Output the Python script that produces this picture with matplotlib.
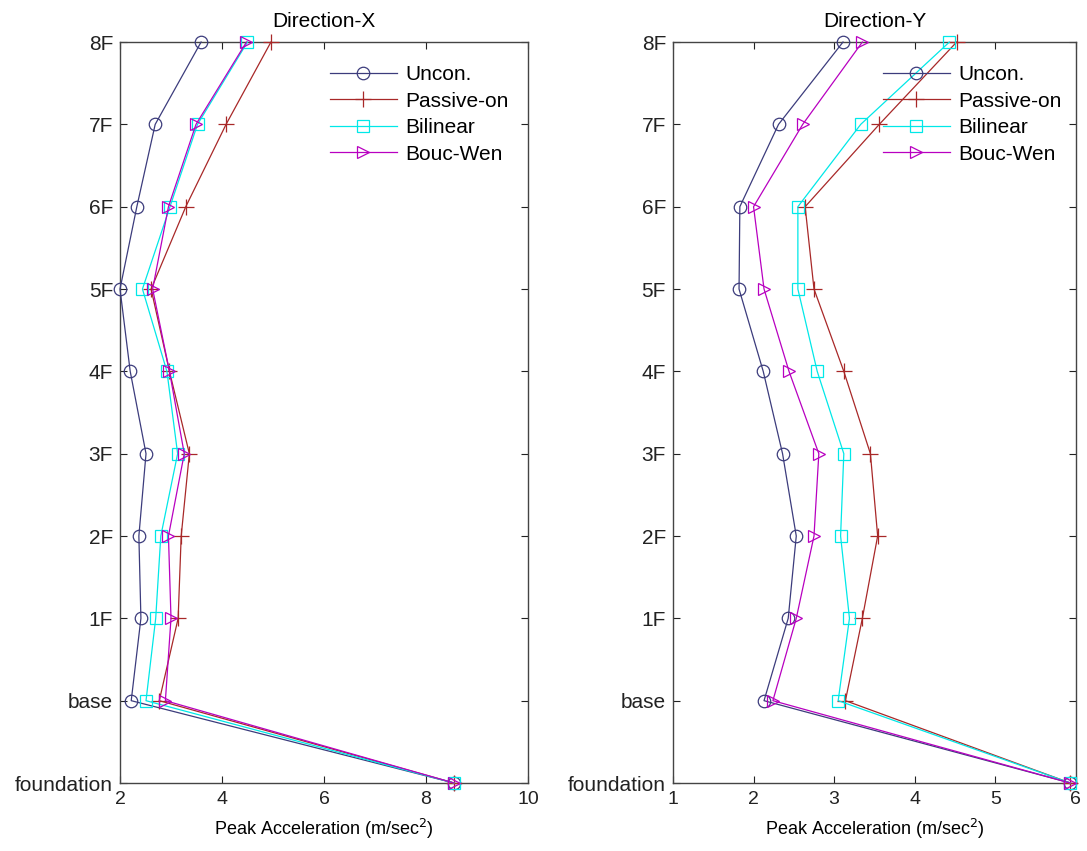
import matplotlib
matplotlib.use("Agg")
import matplotlib.pyplot as plt

plt.rcParams['font.family'] = ['Liberation Sans', 'DejaVu Sans']

floors = ["foundation", "base", "1F", "2F", "3F", "4F", "5F", "6F", "7F", "8F"]

# Peak acceleration (m/sec^2), listed from foundation up to 8F
x_uncon    = [8.55, 2.22, 2.41, 2.37, 2.51, 2.20, 2.00, 2.33, 2.69, 3.59]
x_passive  = [8.55, 2.77, 3.14, 3.20, 3.36, 2.97, 2.61, 3.29, 4.08, 4.96]
x_bilinear = [8.55, 2.51, 2.70, 2.80, 3.13, 2.92, 2.44, 2.98, 3.52, 4.50]
x_boucwen  = [8.55, 2.89, 3.00, 2.95, 3.26, 2.97, 2.64, 2.95, 3.49, 4.48]

y_uncon    = [5.93, 2.13, 2.43, 2.53, 2.36, 2.12, 1.82, 1.83, 2.31, 3.11]
y_passive  = [5.93, 3.14, 3.35, 3.54, 3.45, 3.12, 2.75, 2.64, 3.56, 4.52]
y_bilinear = [5.93, 3.05, 3.19, 3.08, 3.12, 2.79, 2.55, 2.55, 3.33, 4.43]
y_boucwen  = [5.93, 2.24, 2.53, 2.75, 2.81, 2.44, 2.13, 2.00, 2.61, 3.35]

labels = ["Uncon.", "Passive-on", "Bilinear", "Bouc-Wen"]
colors = ["#3c3c7c", "#a82828", "#00e8e8", "#b800c0"]
markers = ["o", "+", "s", ">"]

fig = plt.figure(figsize=(10.87, 8.51), dpi=100)
ax1 = fig.add_axes([0.1104, 0.0799, 0.3753, 0.8707])
ax2 = fig.add_axes([0.6191, 0.0799, 0.3707, 0.8707])

levels = list(range(len(floors)))


def draw(ax, series, title, xlim, xticks, legend_x):
    for vals, lab, c, m in zip(series, labels, colors, markers):
        ms = 11 if m == "+" else 9
        ax.plot(vals, levels, color=c, marker=m, markersize=ms,
                markerfacecolor="none", markeredgecolor=c, markeredgewidth=0.9,
                linewidth=0.9, label=lab, clip_on=False, zorder=3)
    ax.set_xlim(*xlim)
    ax.set_ylim(0, len(floors) - 1)
    ax.set_xticks(xticks)
    ax.set_xticklabels([str(t) for t in xticks])
    ax.set_yticks(levels)
    ax.set_yticklabels(floors)
    ax.tick_params(direction="in", top=True, right=True,
                   length=5, width=0.8, colors="#222222")
    ax.tick_params(axis="y", labelsize=15, pad=5)
    ax.tick_params(axis="x", labelsize=14, pad=6)
    for sp in ax.spines.values():
        sp.set_color("#444444")
        sp.set_linewidth(1.0)
    ax.set_title(title, fontsize=15, pad=11)
    ax.set_xlabel("Peak Acceleration (m/sec$^2$)", fontsize=13, labelpad=6)
    ax.legend(loc="upper left", bbox_to_anchor=(legend_x, 0.969),
              frameon=False, fontsize=15, handlelength=3.2,
              handletextpad=0.4, labelspacing=0.36, borderaxespad=0,
              borderpad=0)


draw(ax1, [x_uncon, x_passive, x_bilinear, x_boucwen], "Direction-X",
     (2, 10), [2, 4, 6, 8, 10], 0.515)
draw(ax2, [y_uncon, y_passive, y_bilinear, y_boucwen], "Direction-Y",
     (1, 6), [1, 2, 3, 4, 5, 6], 0.521)

fig.savefig("out.png", dpi=100)
